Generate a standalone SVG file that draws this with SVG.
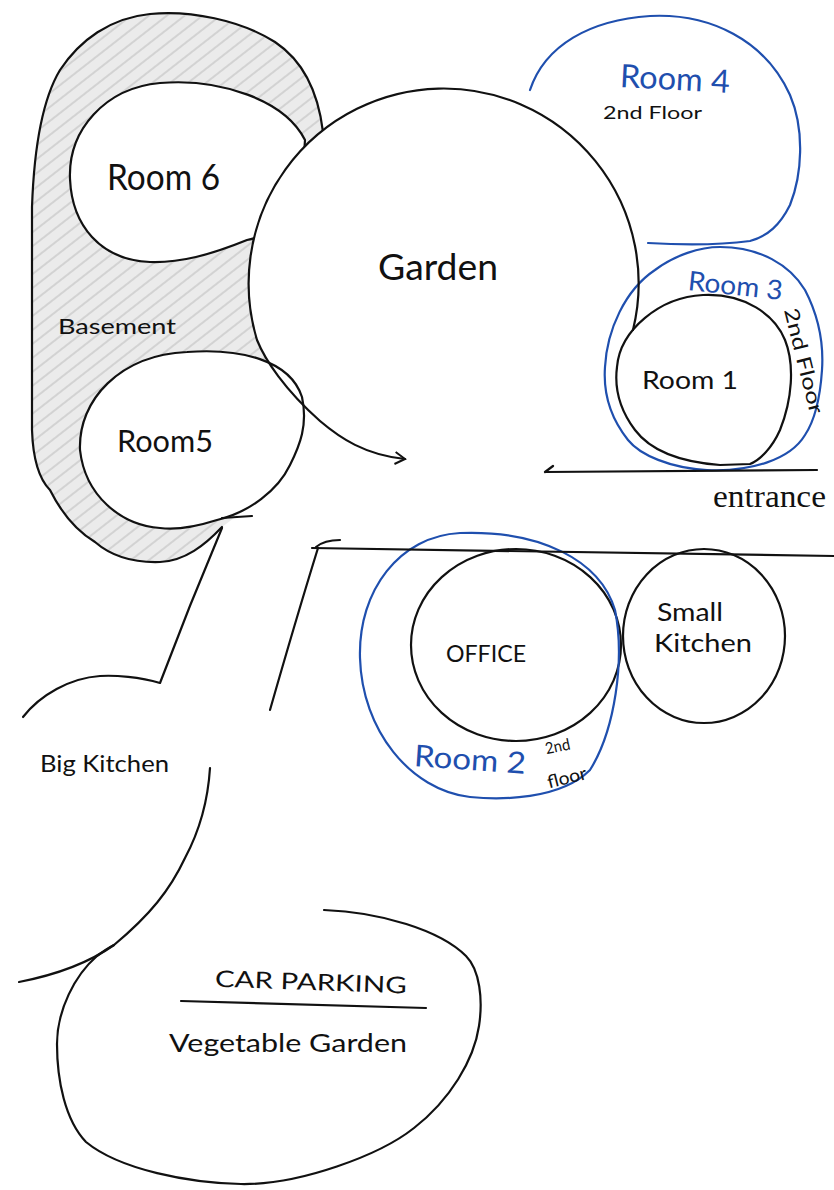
<svg xmlns="http://www.w3.org/2000/svg" width="834" height="1190" viewBox="0 0 834 1190">
<defs>
<pattern id="hatch" patternUnits="userSpaceOnUse" width="11" height="11" patternTransform="rotate(-38)">
<rect width="11" height="11" fill="#ebebeb"/>
<line x1="0" y1="5" x2="11" y2="5" stroke="#b4b4b4" stroke-width="0.9"/>
</pattern>
<marker id="arrow" markerWidth="14" markerHeight="14" refX="11" refY="7" orient="auto" markerUnits="userSpaceOnUse">
<path d="M1,1 L11,7 L1,13" fill="none" stroke="#111" stroke-width="2"/>
</marker>
</defs>
<style>
.ink{fill:none;stroke:#111;stroke-width:2.2;stroke-linecap:round;stroke-linejoin:round}
.blue{fill:none;stroke:#1f4fae;stroke-width:2.2;stroke-linecap:round;stroke-linejoin:round}
.t{font-family:"Lato","Liberation Sans",sans-serif;font-weight:400;fill:#111}
.tb{font-family:"Lato","Liberation Sans",sans-serif;font-weight:400;fill:#1f4fae}
.serif{font-family:"Liberation Serif","Times New Roman",serif;fill:#111}
</style>
<rect width="834" height="1190" fill="#fff"/>

<g id="basement">
<path d="M323,132 C318,90 302,60 275,42 C240,20 190,10 150,14 C110,18 80,40 60,70 C42,100 34,150 32,207 L32,430 C33,460 40,480 50,490 C60,510 75,530 95,542 C110,555 130,563 160,562 C185,561 205,545 222,527 L262,497 L300,440 L300,392 L280,379 C265,360 257,345 257,340 A195,195 0 0 1 323,132 Z" fill="url(#hatch)"/>
<path class="ink" d="M323,132 C318,90 302,60 275,42 C240,20 190,10 150,14 C110,18 80,40 60,70 C42,100 34,150 32,207 L32,430 C33,460 40,480 50,490 C60,510 75,530 95,542 C110,555 130,563 160,562 C185,561 205,545 222,527"/>
<text class="t" x="58" y="334" font-size="21" textLength="118" lengthAdjust="spacingAndGlyphs">Basement</text>
</g>

<g id="room6">
<path class="ink" style="fill:#fff" d="M70,179 C68,130 105,88 160,83 C220,78 285,100 305,140 L300,215 C285,228 265,236 247,240 C210,255 180,263 150,262 C100,260 72,225 70,179 Z"/>
<text class="t" x="107" y="190" font-size="36" textLength="113" lengthAdjust="spacingAndGlyphs">Room 6</text>
</g>

<g id="garden">
<path d="M633,330 A195,195 0 1 0 257,340 C265,360 285,390 320,421 C340,438 365,455 405,459 Z" fill="#fff"/>
<text class="t" x="378" y="280" font-size="36" textLength="120" lengthAdjust="spacingAndGlyphs">Garden</text>
</g>

<g id="room5">
<path class="ink" style="fill:#fff" d="M187,352 C240,348 290,360 302,397 C308,425 300,445 290,465 C278,490 250,512 217,520 C195,527 175,530 160,528 C120,525 85,495 80,450 C78,400 120,355 187,352 Z"/>
<text class="t" x="117" y="452" font-size="30" textLength="96" lengthAdjust="spacingAndGlyphs">Room5</text>
</g>

<g id="room4">
<path class="blue" d="M530,90 C545,45 590,20 650,16 C710,13 765,40 790,95 C805,130 802,175 790,205 C780,225 768,236 750,241 C720,245 680,245 648,243"/>
<text class="tb" x="620" y="90" font-size="32" textLength="110" lengthAdjust="spacingAndGlyphs" transform="rotate(3 675 80)">Room 4</text>
<text class="t" x="603" y="119" font-size="17" textLength="99" lengthAdjust="spacingAndGlyphs">2nd Floor</text>
</g>

<g id="room3">
<path class="blue" d="M720,247 C760,247 790,265 805,290 C818,315 824,340 822,370 C820,400 815,420 805,435 C790,460 750,472 707,470 C670,468 640,455 628,440 C612,420 603,395 605,367 C607,330 625,290 655,270 C675,255 700,247 720,247 Z"/>
<text class="tb" x="688" y="295" font-size="27" textLength="95" lengthAdjust="spacingAndGlyphs" transform="rotate(6 735 285)">Room 3</text>
<text class="t" x="0" y="0" font-size="20" textLength="108" lengthAdjust="spacingAndGlyphs" transform="translate(784,310) rotate(76)">2nd Floor</text>
</g>

<g id="room1">
<path class="ink" d="M703,295 C745,293 775,315 785,340 C795,365 792,400 780,430 C772,448 760,460 750,464 L720,465 C680,462 650,450 635,430 C620,410 614,390 617,367 C620,330 660,297 703,295 Z"/>
<text class="t" x="642" y="389" font-size="25" textLength="96" lengthAdjust="spacingAndGlyphs">Room 1</text>
</g>

<g id="office">
<ellipse class="ink" cx="516" cy="645" rx="105" ry="96"/>
<text class="t" x="446" y="662" font-size="24" textLength="80" lengthAdjust="spacingAndGlyphs">OFFICE</text>
</g>

<g id="room2">
<path class="blue" d="M460,533 C540,530 600,560 615,610 C625,660 615,730 590,770 C560,800 500,800 470,797 C410,790 362,730 360,658 C358,590 400,536 460,533 Z"/>
<text class="tb" x="414" y="770" font-size="30" textLength="112" lengthAdjust="spacingAndGlyphs" transform="rotate(4 470 760)">Room 2</text>
<text class="t" x="545" y="752" font-size="16" textLength="25" lengthAdjust="spacingAndGlyphs" transform="rotate(-12 557 746)">2nd</text>
<text class="t" x="547" y="784" font-size="18" textLength="40" lengthAdjust="spacingAndGlyphs" transform="rotate(-14 566 778)">floor</text>
</g>

<g id="small-kitchen">
<ellipse class="ink" cx="704" cy="636" rx="81" ry="87"/>
<text class="t" x="657" y="621" font-size="25" textLength="66" lengthAdjust="spacingAndGlyphs">Small</text>
<text class="t" x="654" y="652" font-size="25" textLength="98" lengthAdjust="spacingAndGlyphs">Kitchen</text>
</g>

<g id="big-kitchen">
<text class="t" x="40" y="772" font-size="23" textLength="129" lengthAdjust="spacingAndGlyphs">Big Kitchen</text>
</g>

<g id="car-parking">
<path class="ink" d="M324,910 C380,912 440,930 466,956 C480,970 483,1000 479,1026 C474,1060 450,1100 414,1128 C380,1155 300,1185 241,1184 C190,1183 120,1170 86,1142 C65,1120 57,1080 57,1044 C57,1010 75,975 97,956 C105,950 110,947 114,945"/>
<text class="t" x="215" y="990" font-size="23" textLength="192" lengthAdjust="spacingAndGlyphs" transform="rotate(2 310 980)">CAR PARKING</text>
<line class="ink" x1="181" y1="1001" x2="426" y2="1008"/>
<text class="t" x="169" y="1052" font-size="25" textLength="238" lengthAdjust="spacingAndGlyphs">Vegetable Garden</text>
</g>

<g id="connectors">
<path class="ink" d="M633,330 A195,195 0 1 0 257,340 C265,360 285,390 320,421 C340,438 365,455 405,459" marker-end="url(#arrow)"/>
<path class="ink" d="M222,518 L252,516"/>
<path class="ink" d="M222,528 C200,580 180,630 160,683 C140,677 115,675 100,676 C70,678 40,695 23,717"/>
<path class="ink" d="M210,768 C208,800 200,830 185,858 C170,890 150,915 114,945 C90,962 55,975 19,982"/>
<path class="ink" d="M318,548 C305,590 290,640 270,710"/>
<path class="ink" d="M316,547 C322,542 332,540 340,540"/>
<path class="ink" d="M312,548 L834,556"/>
<path class="ink" d="M545,472 L817,470 M545,472 L553,466"/>
<text class="serif" x="713" y="507" font-size="31" textLength="113" lengthAdjust="spacingAndGlyphs">entrance</text>
</g>
</svg>
